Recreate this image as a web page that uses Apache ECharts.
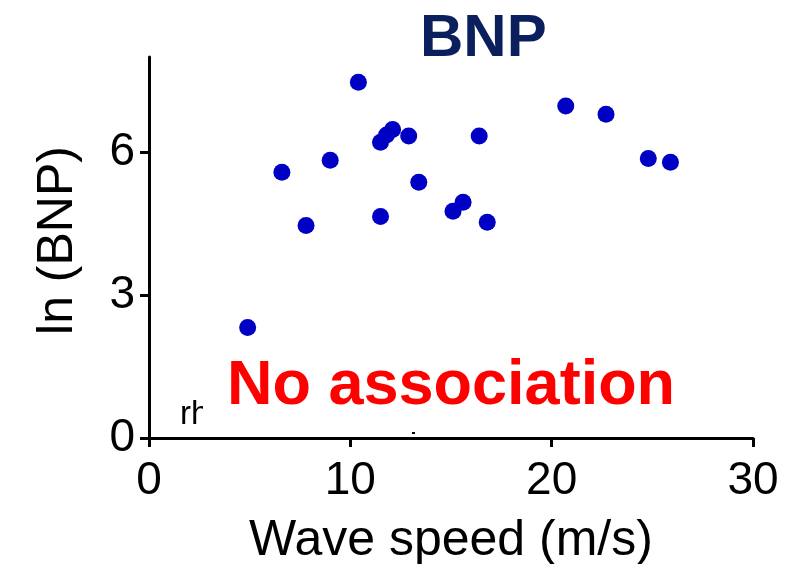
<!DOCTYPE html>
<html>
<head>
<meta charset="utf-8">
<script src="https://cdn.jsdelivr.net/npm/echarts@6/dist/echarts.min.js"></script>
<style>
  html, body { margin: 0; padding: 0; background: #fff; }
  #chart { width: 796px; height: 564px; }
</style>
</head>
<body>
<div id="chart"></div>
<script>
// Wave speed (m/s) for each subject
var waveSpeed = [4.9, 6.6, 7.8, 9.0, 10.4, 11.5, 11.5, 11.8, 12.1, 12.9,
                 13.4, 15.1, 15.6, 16.8, 16.4, 20.7, 22.7, 24.8, 25.9];
// Natural log of BNP for the same subjects
var lnBNP = [2.32, 5.58, 4.46, 5.83, 7.47, 4.65, 6.21, 6.36, 6.48, 6.34,
             5.37, 4.76, 4.95, 4.53, 6.34, 6.97, 6.80, 5.87, 5.79];
var xTicks = [0, 10, 20, 30];
var yTicks = [0, 3, 6];

var points = waveSpeed.map(function (x, i) { return [x, lnBNP[i]]; });

var FONT = '"Liberation Sans", Arial, sans-serif';
var chart = echarts.init(document.getElementById('chart'), null, { renderer: 'canvas' });

chart.setOption({
  animation: false,
  backgroundColor: '#ffffff',
  title: {
    text: 'BNP',
    left: 415,
    top: 4,
    textStyle: { fontFamily: FONT, fontSize: 60, fontWeight: 'bold', color: '#0b1f5c' }
  },
  grid: { left: 149, right: 43, top: 57, bottom: 126, outerBoundsMode: 'none' },
  xAxis: {
    type: 'value',
    min: 0, max: 30, interval: 10,
    name: 'Wave speed (m/s)',
    nameLocation: 'middle',
    nameGap: 78,
    nameTextStyle: { fontFamily: FONT, fontSize: 50, color: '#000' },
    axisLine: { show: true, onZero: false, lineStyle: { color: '#000', width: 3 } },
    axisTick: { show: true, length: 9, lineStyle: { color: '#000', width: 3 }, customValues: xTicks },
    axisLabel: { fontFamily: FONT, fontSize: 46, color: '#000', margin: 20, customValues: xTicks },
    splitLine: { show: false }
  },
  yAxis: {
    type: 'value',
    min: 0, max: 8, interval: 3,
    name: 'ln (BNP)',
    nameLocation: 'middle',
    nameGap: 66,
    nameRotate: 90,
    nameTextStyle: { fontFamily: FONT, fontSize: 50, color: '#000', padding: [0, 0, 0, 14] },
    axisLine: { show: true, onZero: false, lineStyle: { color: '#000', width: 3 } },
    axisTick: { show: true, length: 9, lineStyle: { color: '#000', width: 3 }, customValues: yTicks },
    axisLabel: { fontFamily: FONT, fontSize: 46, color: '#000', margin: 14, customValues: yTicks },
    splitLine: { show: false }
  },
  graphic: [
    {
      type: 'text',
      left: 180, top: 398,
      style: { text: 'rh', fontFamily: FONT, fontSize: 33, fill: '#000' }
    },
    {
      type: 'rect',
      left: 412, top: 431,
      shape: { width: 3, height: 3 },
      style: { fill: '#000' }
    },
    {
      type: 'text',
      left: 203, top: 349,
      style: {
        text: 'No association', fontFamily: FONT, fontSize: 63, fontWeight: 'bold', fill: '#ff0000',
        backgroundColor: '#ffffff', padding: [6, 6, 14, 24]
      }
    }
  ],
  series: [{
    type: 'scatter',
    data: points,
    symbol: 'circle',
    symbolSize: 17,
    itemStyle: { color: '#0000c4', opacity: 1 }
  }]
});
</script>
</body>
</html>
